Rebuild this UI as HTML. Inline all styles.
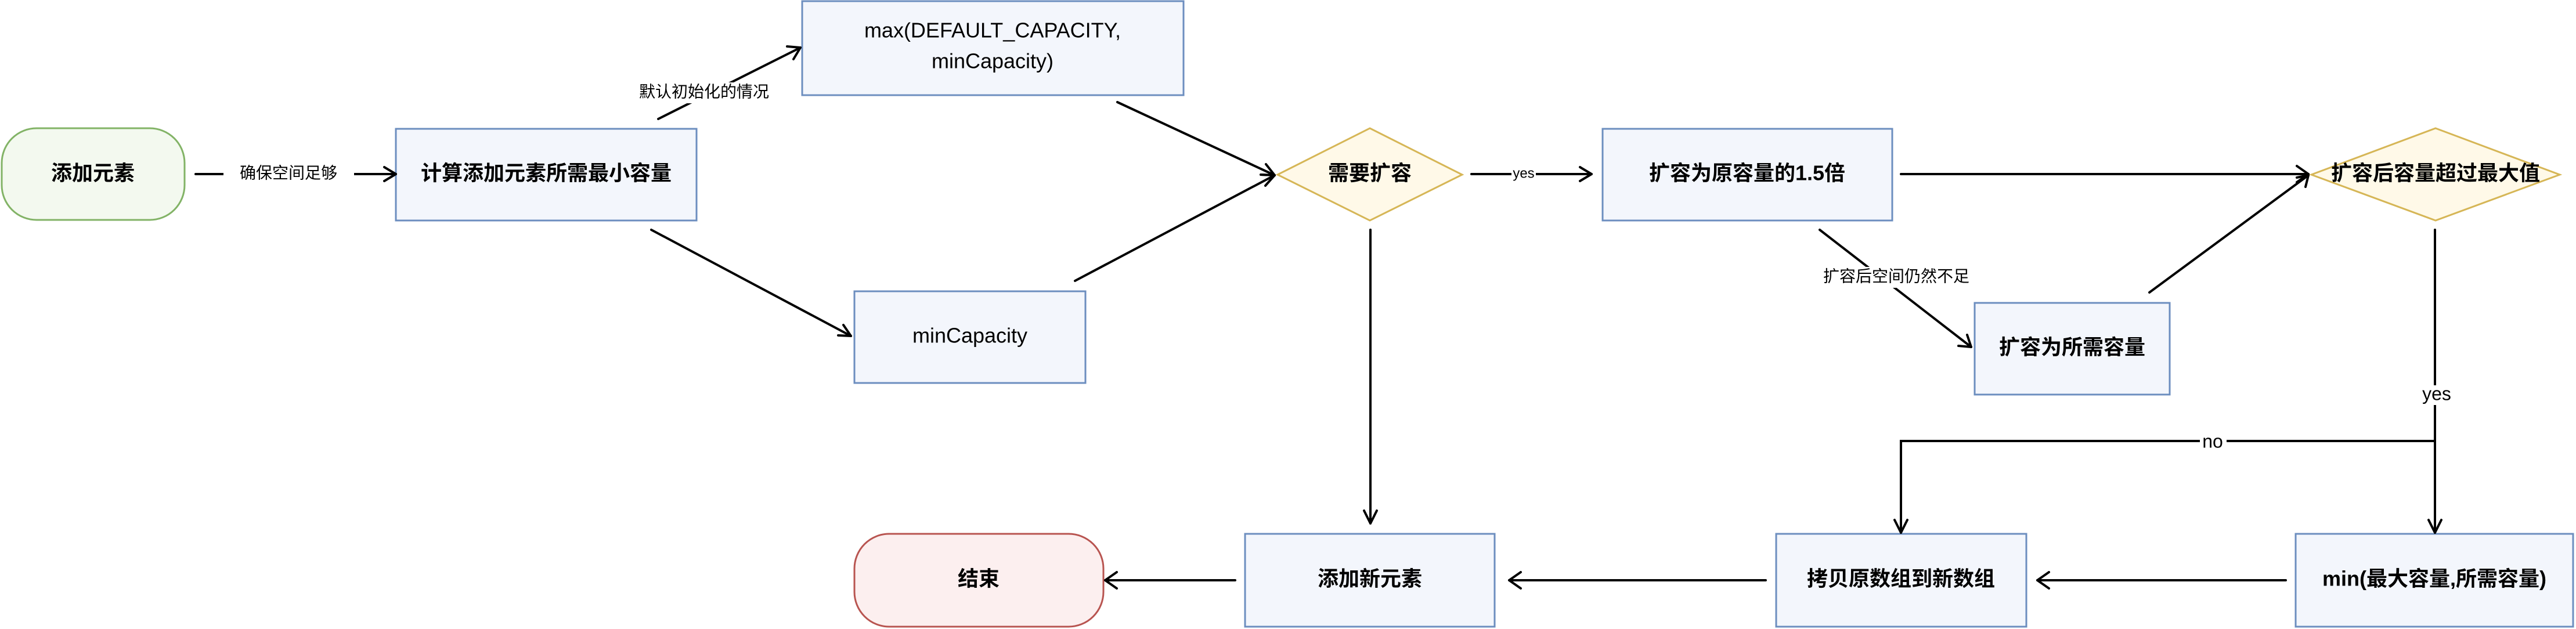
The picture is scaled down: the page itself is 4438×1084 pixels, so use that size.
<!DOCTYPE html>
<html><head><meta charset="utf-8"><style>
html,body{margin:0;padding:0;background:#fff;}
svg{display:block}
text{font-family:"Liberation Sans","Noto Sans CJK SC",sans-serif;fill:#000;}
.n{font-size:36px;font-weight:bold;text-anchor:middle;dominant-baseline:middle}
.l{font-size:28px;text-anchor:middle;dominant-baseline:middle}
.b{fill:#f3f6fc;stroke:#6c8ebf;stroke-width:3}
.a{fill:none;stroke:#000;stroke-width:4;stroke-linecap:round}
.h{fill:none;stroke:#000;stroke-width:4;stroke-linecap:round;stroke-linejoin:round}
</style></head><body>
<svg width="4438" height="1084" viewBox="0 0 4438 1084" xmlns="http://www.w3.org/2000/svg">
<!-- nodes -->
<rect x="3" y="221" width="315" height="158" rx="60" fill="#f3f9ef" stroke="#82b366" stroke-width="3"/>
<text class="n" x="160" y="301">添加元素</text>
<rect class="b" x="682" y="222" width="518" height="158"/>
<text class="n" x="941" y="301">计算添加元素所需最小容量</text>
<rect class="b" x="1382" y="2" width="657" height="162"/>
<text class="n" x="1710" y="55" style="font-weight:normal">max(DEFAULT_CAPACITY,</text>
<text class="n" x="1710" y="108" style="font-weight:normal">minCapacity)</text>
<rect class="b" x="1472" y="502" width="398" height="158"/>
<text class="n" x="1671" y="581" style="font-weight:normal">minCapacity</text>
<polygon points="2360,221 2519,301 2360,380 2201,301" fill="#fff9e8" stroke="#d6b656" stroke-width="3"/>
<text class="n" x="2360" y="301">需要扩容</text>
<rect class="b" x="2761" y="222" width="499" height="158"/>
<text class="n" x="3010" y="301">扩容为原容量的1.5倍</text>
<polygon points="4196,221 4410,301 4196,380 3982,301" fill="#fff9e8" stroke="#d6b656" stroke-width="3"/>
<text class="n" x="4196" y="301">扩容后容量超过最大值</text>
<rect class="b" x="3402" y="522" width="336" height="158"/>
<text class="n" x="3570" y="601">扩容为所需容量</text>
<rect x="1472" y="920" width="429" height="160" rx="60" fill="#fcefef" stroke="#b85450" stroke-width="3"/>
<text class="n" x="1686" y="1000">结束</text>
<rect class="b" x="2145" y="920" width="430" height="160"/>
<text class="n" x="2360" y="1000">添加新元素</text>
<rect class="b" x="3060" y="920" width="431" height="160"/>
<text class="n" x="3275" y="1000">拷贝原数组到新数组</text>
<rect class="b" x="3955" y="920" width="478" height="160"/>
<text class="n" x="4194" y="1000">min(最大容量,所需容量)</text>
<!-- edges -->
<path class="a" d="M337 300 H682"/><path class="h" d="M662 288 L682 300 L662 312"/>
<rect x="385" y="282" width="225" height="36" fill="#fff"/><text class="l" x="497" y="300">确保空间足够</text>
<path class="a" d="M1134 205 L1379 82"/><path class="h" d="M1356 80 L1379 82 L1367 102"/>
<rect x="1062" y="142" width="302" height="36" fill="#fff"/><text class="l" x="1213" y="160">默认初始化的情况</text>
<path class="a" d="M1925 176 L2196 302"/><path class="h" d="M2172 301 L2196 302 L2181 283"/>
<path class="a" d="M1122 396 L1466 579"/><path class="h" d="M1444 578 L1466 579 L1453 560"/>
<path class="a" d="M1852 484 L2196 302"/><path class="h" d="M2180 320 L2196 302 L2172 301"/>
<path class="a" d="M2535 300 H2742"/><path class="h" d="M2722 288 L2742 300 L2722 312"/>
<rect x="2604" y="286" width="42" height="28" fill="#fff"/><text class="l" x="2625" y="300" style="font-size:24px">yes</text>
<path class="a" d="M3275 300 H3977"/><path class="h" d="M3957 286 L3977 300 L3957 314"/>
<path class="a" d="M3135 396 L3396 598"/><path class="h" d="M3374 596 L3396 598 L3389 577"/>
<rect x="3100" y="460" width="334" height="36" fill="#fff"/><text class="l" x="3267" y="478">扩容后空间仍然不足</text>
<path class="a" d="M3703 504 L3977 302"/><path class="h" d="M3957 306 L3977 302 L3972 322"/>
<path class="a" d="M2361 396 V902"/><path class="h" d="M2350 880 L2361 902 L2372 880"/>
<path class="a" d="M4195 396 V918"/><path class="h" d="M4184 896 L4195 918 L4206 896"/>
<rect x="4165" y="664" width="60" height="34" fill="#fff"/><text class="l" x="4198" y="681" style="font-size:32px">yes</text>
<path class="a" d="M4195 760 H3275 V918"/><path class="h" d="M3264 896 L3275 918 L3286 896"/>
<rect x="3790" y="744" width="46" height="34" fill="#fff"/><text class="l" x="3812" y="763" style="font-size:32px">no</text>
<path class="a" d="M3938 1000 H3510"/><path class="h" d="M3530 986 L3510 1000 L3530 1014"/>
<path class="a" d="M3042 1000 H2600"/><path class="h" d="M2620 986 L2600 1000 L2620 1014"/>
<path class="a" d="M2128 1000 H1904"/><path class="h" d="M1924 986 L1904 1000 L1924 1014"/>
</svg>
</body></html>
